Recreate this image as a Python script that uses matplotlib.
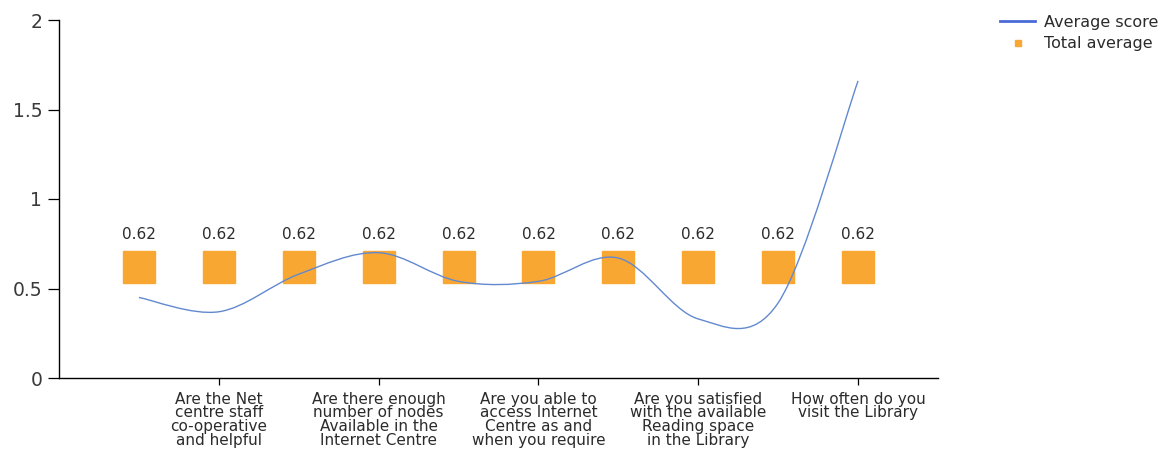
import numpy as np
import matplotlib
matplotlib.use("Agg")
import matplotlib.pyplot as plt
from matplotlib.path import Path
from matplotlib.patches import PathPatch
from matplotlib.lines import Line2D

# categories 1..10, only every other one carries a label
positions = [1, 2, 3, 4, 5, 6, 7, 8, 9, 10]
average_score = [0.45, 0.37, 0.58, 0.70, 0.54, 0.54, 0.67, 0.33, 0.42, 1.66]
total_average = [0.62] * 10
label_positions = [2, 4, 6, 8, 10]
labels = [
    "Are the Net\ncentre staff\nco-operative\nand helpful",
    "Are there enough\nnumber of nodes\nAvailable in the\nInternet Centre",
    "Are you able to\naccess Internet\nCentre as and\nwhen you require",
    "Are you satisfied\nwith the available\nReading space\nin the Library",
    "How often do you\nvisit the Library",
]

line_color = "#6289d0"
square_color = "#f9a733"
text_color = "#2b2b2b"


def spline_path(xs, ys, tension=0.5):
    # cardinal spline as bezier segments, like the smooth line of the original
    pts = list(zip(xs, ys))
    verts = [pts[0]]
    codes = [Path.MOVETO]
    k = tension / 3.0
    for i in range(len(pts) - 1):
        p0 = pts[i - 1] if i > 0 else pts[i]
        p1 = pts[i]
        p2 = pts[i + 1]
        p3 = pts[i + 2] if i + 2 < len(pts) else pts[i + 1]
        c1 = (p1[0] + k * (p2[0] - p0[0]), p1[1] + k * (p2[1] - p0[1]))
        c2 = (p2[0] - k * (p3[0] - p1[0]), p2[1] - k * (p3[1] - p1[1]))
        verts += [c1, c2, p2]
        codes += [Path.CURVE4] * 3
    return Path(verts, codes)


fig = plt.figure(figsize=(11.67, 4.67), dpi=100)
ax = fig.add_axes([59 / 1167, 89 / 467, (938 - 59) / 1167, (378 - 20) / 467])

ax.plot(positions, total_average, linestyle="none", marker="s", markersize=22.5,
        color=square_color, zorder=2)
for x, v in zip(positions, total_average):
    ax.annotate(f"{v:.2f}", (x, v), xytext=(0, 18), textcoords="offset points",
                ha="center", va="bottom", fontsize=11, color=text_color)

ax.add_patch(PathPatch(spline_path(positions, average_score), facecolor="none",
                       edgecolor=line_color, linewidth=1.0, zorder=3))

ax.set_xlim(0, 11)
ax.set_ylim(0, 2)
ax.set_yticks([0, 0.5, 1, 1.5, 2])
ax.set_yticklabels(["0", "0.5", "1", "1.5", "2"])
ax.set_xticks(label_positions)
ax.set_xticklabels(labels, fontsize=11, color=text_color, linespacing=0.88)
ax.tick_params(axis="y", labelsize=13.5, labelcolor="#3a3a3a", length=8, width=0.9, pad=4)
ax.tick_params(axis="x", length=5, width=0.9, pad=5)
for s in ["top", "right"]:
    ax.spines[s].set_visible(False)
for s in ["left", "bottom"]:
    ax.spines[s].set_linewidth(1.0)

handles = [
    Line2D([], [], color="#4a6bd6", linewidth=2),
    Line2D([], [], linestyle="none", marker="s", markersize=4, color=square_color),
]
fig.legend(handles, ["Average score", "Total average"], loc="upper left",
           bbox_to_anchor=(992 / 1167, 1 - 7 / 467), frameon=False,
           fontsize=11.5, handlelength=2.2, handletextpad=0.55, labelspacing=0.4,
           labelcolor=text_color, borderpad=0)

fig.savefig("out.png", dpi=100)
